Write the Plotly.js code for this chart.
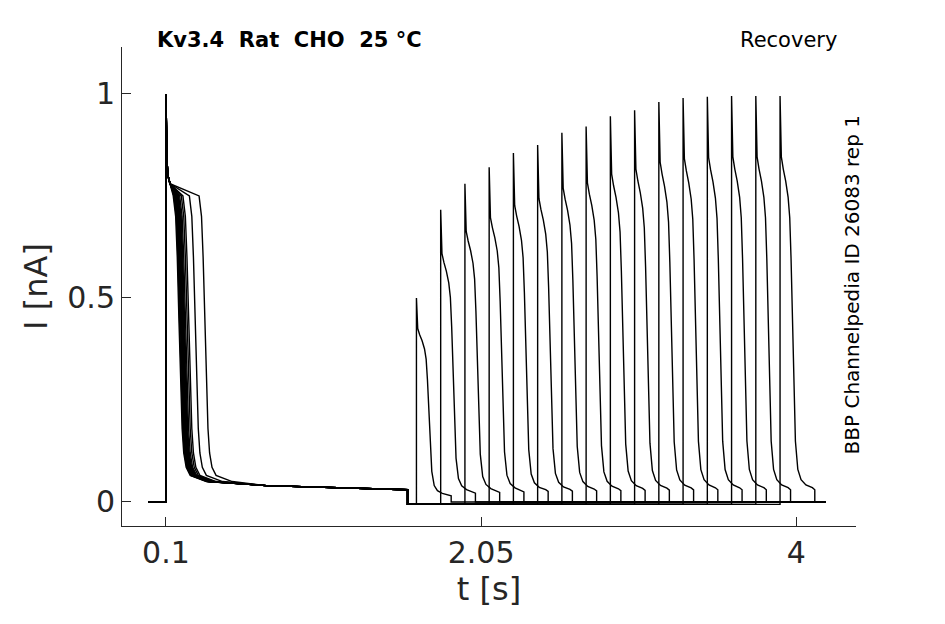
<!DOCTYPE html>
<html>
<head>
<meta charset="utf-8">
<script src="https://cdn.plot.ly/plotly-3.0.1.min.js"></script>
<style>body{margin:0;background:#fff}#myDiv{width:945px;height:624px}</style>
</head>
<body>
<div id="myDiv"></div>
<script>
// prepulse: onset time, end time, shape (s after onset, nA)
var preOnset = 0.1;
var preEnd = 1.595;
var preShapeT = [0, 0.003, 0.006, 0.012, 0.025, 0.045, 0.06, 0.07, 0.08, 0.09, 0.1, 0.11, 0.125, 0.15, 0.25, 0.62, 1.49];
var preShapeI = [1.0, 0.9, 0.84, 0.8, 0.78, 0.75, 0.7, 0.6, 0.45, 0.3, 0.18, 0.12, 0.085, 0.065, 0.05, 0.04, 0.03];
// per sweep extra delay of prepulse inactivation (s)
var preLag = [0, 0.004, 0.008, 0.011, 0.014, 0.017, 0.02, 0.023, 0.026, 0.03, 0.034, 0.04, 0.05, 0.06, 0.1, 0.16];

// test pulses: onset (s) and peak (nA)
var testOnset = [1.65, 1.80, 1.95, 2.10, 2.25, 2.40, 2.55, 2.70, 2.85, 3.00, 3.15, 3.30, 3.45, 3.60, 3.75, 3.90];
var testPeak = [0.5, 0.716, 0.78, 0.82, 0.855, 0.875, 0.905, 0.92, 0.945, 0.96, 0.98, 0.99, 0.993, 0.995, 0.995, 0.995];
var testShapeT = [0, 0.003, 0.008, 0.02, 0.035, 0.05, 0.06, 0.068, 0.076, 0.085, 0.095, 0.11, 0.13, 0.16, 0.2, 0.215];
var testShapeF = [1, 0.9, 0.85, 0.82, 0.79, 0.75, 0.7, 0.6, 0.45, 0.28, 0.15, 0.08, 0.055, 0.042, 0.035, 0.03];

var tStart = -0.01, tStop = 4.18, gapLevel = -0.006;

var data = [];
for (var s = 0; s < testOnset.length; s++) {
  var x = [tStart, preOnset, preOnset], y = [0, 0, preShapeI[0]];
  for (var k = 1; k < preShapeT.length; k++) {
    var t = preShapeT[k] + (k >= 5 && k < preShapeT.length - 2 ? preLag[s] : 0);
    x.push(preOnset + t); y.push(preShapeI[k]);
  }
  x.push(preEnd, preEnd, testOnset[s], testOnset[s]);
  y.push(0.03, gapLevel, gapLevel, testPeak[s]);
  for (var j = 1; j < testShapeT.length; j++) {
    x.push(testOnset[s] + testShapeT[j]); y.push(testShapeF[j] * testPeak[s]);
  }
  var e = testOnset[s] + testShapeT[testShapeT.length - 1];
  x.push(e, tStop); y.push(0, 0);
  data.push({x: x, y: y, type: 'scatter', mode: 'lines',
    line: {color: '#000', width: 1.4}, showlegend: false, hoverinfo: 'none'});
}

var layout = {
  width: 945, height: 624,
  margin: {l: 122, r: 89, t: 47, b: 98},
  paper_bgcolor: '#fff', plot_bgcolor: '#fff',
  font: {family: 'DejaVu Sans', color: '#262626'},
  xaxis: {range: [-0.172, 4.37], tickvals: [0.1, 2.05, 4], ticktext: ['0.1', '2.05', '4'],
    showgrid: false, zeroline: false, showline: true, linecolor: '#262626', linewidth: 1,
    ticks: 'inside', ticklen: 9, tickcolor: '#262626', tickfont: {size: 30},
    title: {text: 't [s]', font: {size: 32}, standoff: 6}},
  yaxis: {range: [-0.059, 1.115], tickvals: [0, 0.5, 1], ticktext: ['0', '0.5', '1'],
    showgrid: false, zeroline: false, showline: true, linecolor: '#262626', linewidth: 1,
    ticks: 'inside', ticklen: 9, tickcolor: '#262626', tickfont: {size: 30},
    title: {text: 'I [nA]', font: {size: 32}, standoff: 10}},
  annotations: [
    {text: '<b>Kv3.4  Rat  CHO  25 °C</b>', xref: 'paper', yref: 'paper', x: 0.045, y: 1.015,
      xanchor: 'left', yanchor: 'middle', showarrow: false, font: {size: 21, color: '#000'}},
    {text: 'Recovery', xref: 'paper', yref: 'paper', x: 0.977, y: 1.015,
      xanchor: 'right', yanchor: 'middle', showarrow: false, font: {size: 21, color: '#000'}},
    {text: 'BBP Channelpedia ID 26083 rep 1', xref: 'paper', yref: 'paper', x: 0.995, y: 0.503,
      textangle: -90, xanchor: 'center', yanchor: 'middle', showarrow: false,
      font: {size: 20, color: '#000'}}
  ]
};

Plotly.newPlot('myDiv', data, layout, {displayModeBar: false, staticPlot: true});
</script>
</body>
</html>
